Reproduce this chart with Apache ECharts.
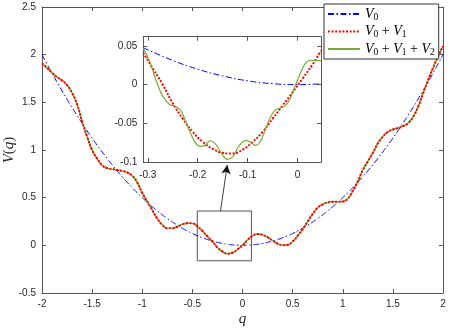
<!DOCTYPE html>
<html>
<head>
<meta charset="utf-8">
<script src="https://cdn.jsdelivr.net/npm/echarts@6/dist/echarts.min.js"></script>
<style>
  html, body { margin: 0; padding: 0; background: #fff; }
  #chart { width: 450px; height: 328px; }
</style>
</head>
<body>
<div id="chart"></div>
<script>
// main panel, q from -2 to 2
const qMain = [
  -2, -1.95, -1.9, -1.85, -1.8, -1.75, -1.7, -1.65, -1.6, -1.55,
  -1.5, -1.45, -1.4, -1.35, -1.3, -1.25, -1.2, -1.15, -1.1, -1.05,
  -1, -0.95, -0.9, -0.85, -0.8, -0.75, -0.7, -0.65, -0.6, -0.55,
  -0.5, -0.45, -0.4, -0.35, -0.3, -0.25, -0.2, -0.15, -0.1, -0.05,
  0, 0.05, 0.1, 0.15, 0.2, 0.25, 0.3, 0.35, 0.4, 0.45,
  0.5, 0.55, 0.6, 0.65, 0.7, 0.75, 0.8, 0.85, 0.9, 0.95,
  1, 1.05, 1.1, 1.15, 1.2, 1.25, 1.3, 1.35, 1.4, 1.45,
  1.5, 1.55, 1.6, 1.65, 1.7, 1.75, 1.8, 1.85, 1.9, 1.95, 2
];
const v0Main = [
  2.0, 1.901, 1.805, 1.711, 1.62, 1.531, 1.445, 1.361, 1.28, 1.201,
  1.125, 1.051, 0.98, 0.911, 0.845, 0.781, 0.72, 0.661, 0.605, 0.551,
  0.5, 0.451, 0.405, 0.361, 0.32, 0.281, 0.245, 0.211, 0.18, 0.151,
  0.125, 0.101, 0.08, 0.061, 0.045, 0.031, 0.02, 0.011, 0.005, 0.001,
  0, 0.001, 0.005, 0.011, 0.02, 0.031, 0.045, 0.061, 0.08, 0.101,
  0.125, 0.151, 0.18, 0.211, 0.245, 0.281, 0.32, 0.361, 0.405, 0.451,
  0.5, 0.551, 0.605, 0.661, 0.72, 0.781, 0.845, 0.911, 0.98, 1.051,
  1.125, 1.201, 1.28, 1.361, 1.445, 1.531, 1.62, 1.711, 1.805, 1.901, 2.0
];
const v01Main = [
  1.91, 1.86, 1.81, 1.765, 1.73, 1.68, 1.6, 1.48, 1.3, 1.14,
  1.0, 0.91, 0.84, 0.81, 0.8, 0.79, 0.78, 0.765, 0.73, 0.66,
  0.55, 0.46, 0.37, 0.28, 0.215, 0.18, 0.18, 0.195, 0.22, 0.232,
  0.23, 0.2, 0.15, 0.095, 0.04, -0.022, -0.065, -0.088, -0.078, -0.042,
  0, 0.055, 0.1, 0.118, 0.11, 0.085, 0.05, 0.018, 0.002, 0.005,
  0.04, 0.1, 0.17, 0.25, 0.33, 0.395, 0.43, 0.45, 0.458, 0.458,
  0.46, 0.49, 0.57, 0.67, 0.79, 0.88, 0.97, 1.07, 1.14, 1.19,
  1.215, 1.23, 1.25, 1.28, 1.345, 1.45, 1.59, 1.73, 1.86, 1.98, 2.09
];
// V2 wiggles are below a pixel at this scale, the two curves overlap
const v012Main = v01Main;

// inset panel
const qInsetV0 = [-0.309, -0.25, -0.2, -0.15, -0.1, -0.05, 0, 0.047];
const v0Inset = [0.0477, 0.0313, 0.02, 0.0113, 0.005, 0.0013, 0, 0.0011];
const qInsetV01 = [
  -0.309, -0.29, -0.27, -0.25, -0.23, -0.21, -0.19, -0.17, -0.15, -0.13,
  -0.11, -0.09, -0.07, -0.05, -0.03, -0.01, 0.01, 0.03, 0.047
];
const v01Inset = [
  0.041, 0.021, 0.0, -0.024, -0.044, -0.061, -0.074, -0.083, -0.088, -0.089,
  -0.084, -0.074, -0.061, -0.044, -0.027, -0.01, 0.008, 0.026, 0.044
];
const qInsetV012 = [
  -0.309, -0.2956, -0.2822, -0.2689, -0.2555, -0.2455, -0.2355, -0.2255, -0.2154, -0.2054,
  -0.1954, -0.1854, -0.1754, -0.1633, -0.152, -0.1406, -0.1286, -0.1186, -0.1032, -0.0919,
  -0.0832, -0.0752, -0.0651, -0.0551, -0.0451, -0.035, -0.025, -0.015, -0.007, 0.0037,
  0.015, 0.025, 0.0484
];
const v012Inset = [
  0.0475, 0.029, 0.0032, -0.0161, -0.026, -0.0277, -0.032, -0.045, -0.0613, -0.0742,
  -0.0798, -0.0785, -0.0725, -0.0776, -0.0892, -0.0966, -0.0923, -0.0806, -0.072, -0.0755,
  -0.0785, -0.0742, -0.0591, -0.0432, -0.0333, -0.0303, -0.0277, -0.0183, -0.0054, 0.0118,
  0.0269, 0.0312, 0.0312
];
const insetXTicks = [-0.3, -0.2, -0.1, 0];
const insetYTicks = [-0.1, -0.05, 0, 0.05];

// zoom box [q1, V1, q2, V2] and arrow [qFrom, VFrom, qTo, VTo] in main coordinates
const zoomBox = [-0.451, 0.36, 0.089, -0.162];
const arrow = [-0.2195, 0.36, -0.152, 0.843];

const seriesNames = ['V0', 'V0+V1', 'V0+V1+V2'];

const pairs = (xs, ys) => xs.map((x, i) => [x, ys[i]]);

const frame = '#555';
const labelStyle = { fontFamily: 'Liberation Sans', fontSize: 10, color: '#262626' };
const blueLine = { color: '#0000ff', width: 1, type: [6, 2.5, 1.5, 2.5] };
const redLine = { color: '#ff0000', width: 2, type: [2, 1.6] };
const greenLine = { color: '#77ac30', width: 1.4 };

function boxAxes(gridIndex, zlevel, x, y) {
  const common = {
    gridIndex: gridIndex,
    type: 'value',
    zlevel: zlevel,
    splitLine: { show: false },
    axisLine: { show: true, onZero: false, lineStyle: { color: frame, width: 1 } }
  };
  const tick = (vals) => ({ inside: true, length: 4, lineStyle: { color: frame }, customValues: vals });
  const xAxes = [
    Object.assign({}, common, {
      position: 'bottom', min: x.min, max: x.max,
      axisTick: tick(x.ticks),
      axisLabel: Object.assign({ margin: 6, customValues: x.ticks }, labelStyle)
    }, x.extra || {}),
    Object.assign({}, common, {
      position: 'top', min: x.min, max: x.max,
      axisTick: tick(x.ticks), axisLabel: { show: false }
    })
  ];
  const yAxes = [
    Object.assign({}, common, {
      position: 'left', min: y.min, max: y.max,
      axisTick: tick(y.ticks),
      axisLabel: Object.assign({ margin: 6, customValues: y.ticks }, labelStyle)
    }, y.extra || {}),
    Object.assign({}, common, {
      position: 'right', min: y.min, max: y.max,
      axisTick: tick(y.ticks), axisLabel: { show: false }
    })
  ];
  return { xAxes, yAxes };
}

const mainAxes = boxAxes(0, 0,
  {
    min: -2, max: 2, ticks: [-2, -1.5, -1, -0.5, 0, 0.5, 1, 1.5, 2],
    extra: {
      name: '{i|q}', nameLocation: 'middle', nameGap: 19, nameMoveOverlap: false,
      nameTextStyle: { rich: { i: { fontFamily: 'Liberation Serif', fontStyle: 'italic', fontSize: 15, color: '#262626' } } }
    }
  },
  {
    min: -0.5, max: 2.5, ticks: [-0.5, 0, 0.5, 1, 1.5, 2, 2.5],
    extra: {
      name: '{i|V}{r|(}{i|q}{r|)}', nameLocation: 'middle', nameGap: 25, nameRotate: 90, nameMoveOverlap: false,
      nameTextStyle: {
        align: 'center',
        verticalAlign: 'bottom',
        lineHeight: 16,
        rich: {
          i: { fontFamily: 'Liberation Serif', fontStyle: 'italic', fontSize: 15, lineHeight: 16, color: '#262626' },
          r: { fontFamily: 'Liberation Serif', fontSize: 15, lineHeight: 16, color: '#262626' }
        }
      }
    }
  }
);
const insetAxes = boxAxes(1, 1,
  { min: -0.309, max: 0.047, ticks: insetXTicks, extra: { axisLabel: Object.assign({ margin: 8, customValues: insetXTicks }, labelStyle) } },
  { min: -0.1, max: 0.062, ticks: insetYTicks }
);

const chart = echarts.init(document.getElementById('chart'), null, { renderer: 'canvas' });

chart.setOption({
  animation: false,
  backgroundColor: '#fff',
  grid: [
    { left: 42, top: 7, right: 7, bottom: 35, outerBoundsMode: 'none' },
    {
      left: 143.3, top: 36.7, width: 177.7, height: 125.3, outerBoundsMode: 'none',
      show: true, backgroundColor: '#fff', borderWidth: 0, zlevel: 1
    }
  ],
  legend: {
    data: seriesNames,
    orient: 'vertical',
    left: 324,
    top: 4,
    zlevel: 2,
    padding: [2, 4, 2, 3],
    itemGap: 1.5,
    itemWidth: 32,
    itemHeight: 14,
    // line series draw a marker in the middle of the legend line; hide it
    itemStyle: { opacity: 0 },
    backgroundColor: '#fff',
    borderColor: '#333',
    borderWidth: 1,
    borderRadius: 0,
    selectedMode: false,
    textStyle: {
      lineHeight: 16,
      rich: {
        v: { fontFamily: 'Liberation Serif', fontStyle: 'italic', fontSize: 14, color: '#000' },
        s: { fontFamily: 'Liberation Serif', fontSize: 9.5, color: '#000', verticalAlign: 'bottom', padding: [5, 0, 0, 0] },
        o: { fontFamily: 'Liberation Serif', fontSize: 14, color: '#000' }
      }
    },
    formatter: (name) => name.split('+').map((t) => '{v|V}{s|' + t.slice(1) + '}').join('{o| + }')
  },
  xAxis: mainAxes.xAxes.concat(insetAxes.xAxes),
  yAxis: mainAxes.yAxes.concat(insetAxes.yAxes),
  series: [
    {
      name: seriesNames[0], type: 'line', xAxisIndex: 0, yAxisIndex: 0,
      data: pairs(qMain, v0Main), showSymbol: false, symbol: 'none', smooth: true,
      lineStyle: blueLine, itemStyle: { color: '#0000ff' },
      markArea: {
        silent: true,
        itemStyle: { color: 'rgba(0,0,0,0)', borderColor: frame, borderWidth: 1 },
        label: { show: false },
        data: [[{ coord: [zoomBox[0], zoomBox[1]] }, { coord: [zoomBox[2], zoomBox[3]] }]]
      },
      markLine: {
        silent: true,
        symbol: ['none', 'arrow'],
        symbolSize: [7, 9],
        label: { show: false },
        lineStyle: { color: '#111', width: 0.8, type: 'solid' },
        data: [[{ coord: [arrow[0], arrow[1]] }, { coord: [arrow[2], arrow[3]] }]]
      }
    },
    {
      name: seriesNames[1], type: 'line', xAxisIndex: 0, yAxisIndex: 0, z: 4,
      data: pairs(qMain, v01Main), showSymbol: false, symbol: 'none', smooth: true,
      lineStyle: redLine, itemStyle: { color: '#ff0000' }
    },
    {
      name: seriesNames[2], type: 'line', xAxisIndex: 0, yAxisIndex: 0, z: 3,
      data: pairs(qMain, v012Main), showSymbol: false, symbol: 'none', smooth: true,
      lineStyle: greenLine, itemStyle: { color: '#77ac30' }
    },
    {
      name: seriesNames[0], type: 'line', xAxisIndex: 2, yAxisIndex: 2, zlevel: 1,
      data: pairs(qInsetV0, v0Inset), showSymbol: false, symbol: 'none', smooth: true,
      lineStyle: blueLine, itemStyle: { color: '#0000ff' }
    },
    {
      name: seriesNames[1], type: 'line', xAxisIndex: 2, yAxisIndex: 2, zlevel: 1,
      data: pairs(qInsetV01, v01Inset), showSymbol: false, symbol: 'none', smooth: true,
      lineStyle: redLine, itemStyle: { color: '#ff0000' }
    },
    {
      name: seriesNames[2], type: 'line', xAxisIndex: 2, yAxisIndex: 2, zlevel: 1,
      data: pairs(qInsetV012, v012Inset), showSymbol: false, symbol: 'none', smooth: 0.4,
      lineStyle: { color: '#77ac30', width: 1.2 }, itemStyle: { color: '#77ac30' }
    }
  ]
});
</script>
</body>
</html>
